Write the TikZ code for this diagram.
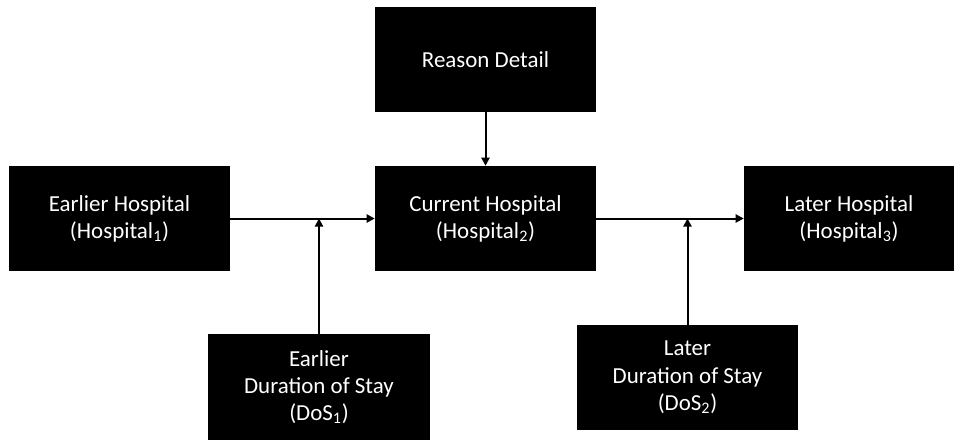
\documentclass[tikz,border=0pt]{standalone}
\usepackage{fontspec}
\setmainfont{Carlito}
\usetikzlibrary{arrows.meta}
\tikzset{
    blackbox/.style = {fill=black, text=white, inner sep=0pt, align=center,
        minimum width=165.75pt, minimum height=78.75pt,
        font=\fontsize{17.2}{20.4}\selectfont},
    link/.style = {line width=1.5pt, -{Triangle[length=6pt,width=6pt]}}
}
\begin{document}
\begin{tikzpicture}[x=0.75pt,y=-0.75pt]
    \useasboundingbox (0,0) rectangle (954,440);
    \node[blackbox] (reason) at (485.5,59.5) {Reason Detail};
    \node[blackbox] (earlier) at (119.5,218.5) {Earlier Hospital\\(Hospital\textsubscript{1})};
    \node[blackbox] (current) at (485.5,218.5) {Current Hospital\\(Hospital\textsubscript{2})};
    \node[blackbox, minimum width=157.5pt] (later) at (849,218.5) {Later Hospital\\(Hospital\textsubscript{3})};
    \node[blackbox, minimum width=166.5pt, minimum height=79.5pt] (dosone) at (319,387) {Earlier\\Duration of Stay\\(DoS\textsubscript{1})};
    \node[blackbox] (dostwo) at (687.5,377.5) {Later\\Duration of Stay\\(DoS\textsubscript{2})};

    \coordinate (joinone) at (dosone.north |- earlier.east);
    \coordinate (jointwo) at (dostwo.north |- current.east);

    \draw[link] (reason.south) -- (current.north);
    \draw[link] (earlier.east) -- (current.west);
    \draw[link] (current.east) -- (later.west);
    \draw[link] (dosone.north) -- (joinone);
    \draw[link] (dostwo.north) -- (jointwo);
\end{tikzpicture}
\end{document}
